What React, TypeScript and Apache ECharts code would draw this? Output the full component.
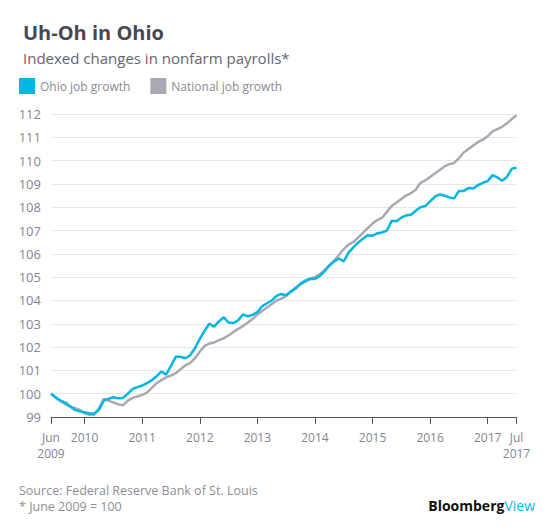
import React, { useEffect, useRef } from "react";
import * as echarts from "echarts";

// Monthly, Jun 2009 .. Jul 2017 (98 points), index June 2009 = 100
const ohio: number[] = [
  100.0, 99.85, 99.7, 99.62, 99.45, 99.3, 99.25, 99.2, 99.15, 99.15,
  99.3, 99.7, 99.78, 99.85, 99.8, 99.82, 100.0, 100.2, 100.28, 100.35,
  100.45, 100.58, 100.75, 100.95, 100.82, 101.2, 101.58, 101.58, 101.52, 101.65,
  101.95, 102.35, 102.7, 103.0, 102.88, 103.1, 103.28, 103.05, 103.03, 103.15,
  103.4, 103.32, 103.38, 103.5, 103.75, 103.88, 104.0, 104.2, 104.28, 104.22,
  104.38, 104.52, 104.72, 104.85, 104.93, 104.92, 105.05, 105.25, 105.5, 105.68,
  105.8, 105.68, 106.05, 106.28, 106.48, 106.65, 106.8, 106.78, 106.88, 106.92,
  107.0, 107.42, 107.4, 107.55, 107.65, 107.68, 107.85, 108.0, 108.05, 108.25,
  108.45, 108.55, 108.5, 108.42, 108.38, 108.7, 108.7, 108.82, 108.8, 108.95,
  109.05, 109.12, 109.38, 109.28, 109.14, 109.3, 109.65, 109.7,
];

const national: number[] = [
  100.0, 99.82, 99.68, 99.55, 99.45, 99.38, 99.3, 99.15, 99.1, 99.1,
  99.38, 99.78, 99.7, 99.62, 99.55, 99.5, 99.7, 99.82, 99.88, 99.95,
  100.05, 100.25, 100.45, 100.58, 100.7, 100.78, 100.88, 101.05, 101.22, 101.32,
  101.52, 101.8, 102.05, 102.15, 102.2, 102.3, 102.38, 102.5, 102.65, 102.78,
  102.9, 103.05, 103.2, 103.4, 103.55, 103.7, 103.85, 104.0, 104.08, 104.2,
  104.4, 104.55, 104.7, 104.8, 104.92, 105.0, 105.12, 105.3, 105.5, 105.7,
  105.95, 106.2, 106.4, 106.5, 106.7, 106.9, 107.1, 107.3, 107.45, 107.55,
  107.8, 108.05, 108.2, 108.35, 108.5, 108.6, 108.75, 109.05, 109.15, 109.3,
  109.45, 109.6, 109.75, 109.85, 109.9, 110.1, 110.35, 110.5, 110.65, 110.8,
  110.9, 111.05, 111.25, 111.35, 111.45, 111.6, 111.78, 111.95,
];

const seriesNames = ["Ohio job growth", "National job growth"];
const startYear = 2009;
const startMonth = 6; // June

const months: string[] = ohio.map((_, i) => {
  const m = startMonth - 1 + i;
  const y = startYear + Math.floor(m / 12);
  const mm = (m % 12) + 1;
  return `${y}-${mm < 10 ? "0" + mm : mm}`;
});

const tickLabels: Record<string, string> = {
  "2009-06": "Jun\n2009",
  "2010-01": "2010",
  "2011-01": "2011",
  "2012-01": "2012",
  "2013-01": "2013",
  "2014-01": "2014",
  "2015-01": "2015",
  "2016-01": "2016",
  "2017-01": "2017",
  "2017-07": "Jul\n2017",
};

const FONT = "'Open Sans', sans-serif";

export default function App() {
  const ref = useRef<HTMLDivElement>(null);
  useEffect(() => {
    if (!ref.current) return;
    const chart = echarts.init(ref.current, undefined, { renderer: "svg" });
    const isTick = (_: number, v: string) => v in tickLabels;
    chart.setOption({
      animation: false,
      backgroundColor: "#ffffff",
      textStyle: { fontFamily: FONT },
      title: [
        {
          text: "Uh-Oh in Ohio",
          left: 18,
          top: 17,
          textStyle: { fontSize: 20, fontWeight: "bold", color: "#474653", fontFamily: FONT },
        },
        {
          text: "Indexed changes in nonfarm payrolls*",
          left: 18,
          top: 45,
          textStyle: { fontSize: 15, fontWeight: "normal", color: "#66656f", fontFamily: FONT },
        },
      ],
      legend: {
        left: 19,
        top: 78,
        padding: 0,
        icon: "rect",
        itemWidth: 16,
        itemHeight: 16,
        itemGap: 20,
        textStyle: { fontSize: 12, color: "#8a8994", fontFamily: FONT },
        data: seriesNames,
      },
      grid: { left: 51, right: 40.5, top: 114, bottom: 112, containLabel: false },
      xAxis: {
        type: "category",
        data: months,
        boundaryGap: false,
        axisLine: { show: true, lineStyle: { color: "#55545f", width: 1 } },
        axisTick: { show: true, interval: isTick, length: 7, lineStyle: { color: "#55545f" } },
        axisLabel: {
          interval: isTick,
          showMinLabel: true,
          showMaxLabel: true,
          hideOverlap: false,
          formatter: (v: string) => tickLabels[v] || "",
          color: "#85848f",
          fontSize: 12,
          lineHeight: 16,
          margin: 12,
          fontFamily: FONT,
        },
        splitLine: { show: false },
      },
      yAxis: {
        type: "value",
        min: 99,
        max: 112,
        interval: 1,
        axisLine: { show: false },
        axisTick: { show: false },
        axisLabel: { color: "#85848f", fontSize: 13, margin: 10, fontFamily: FONT },
        splitLine: { lineStyle: { color: "#e6e6e9", width: 1 } },
      },
      series: [
        {
          name: seriesNames[1],
          type: "line",
          data: national,
          showSymbol: false,
          symbol: "none",
          lineStyle: { color: "#a9a8b3", width: 2.5 },
          itemStyle: { color: "#a9a8b3" },
        },
        {
          name: seriesNames[0],
          type: "line",
          data: ohio,
          showSymbol: false,
          symbol: "none",
          lineStyle: { color: "#00b6e3", width: 2.5 },
          itemStyle: { color: "#00b6e3" },
        },
      ],
      graphic: [
        {
          type: "text",
          left: 19,
          top: 482,
          style: {
            text: "Source: Federal Reserve Bank of St. Louis\n* June 2009 = 100",
            fill: "#8e8d97",
            font: `12.5px ${FONT}`,
            lineHeight: 16,
          },
        },
        {
          type: "text",
          right: 22,
          top: 498,
          style: {
            text: "{b|Bloomberg}{v|View}",
            rich: {
              b: { fill: "#111111", font: `bold 14px ${FONT}` },
              v: { fill: "#14b4e6", font: `14px ${FONT}` },
            },
          },
        },
      ],
    });
    return () => chart.dispose();
  }, []);
  return (
    <div ref={ref} style={{ width: 557, height: 529, position: "absolute", left: 0, top: 0 }} />
  );
}
